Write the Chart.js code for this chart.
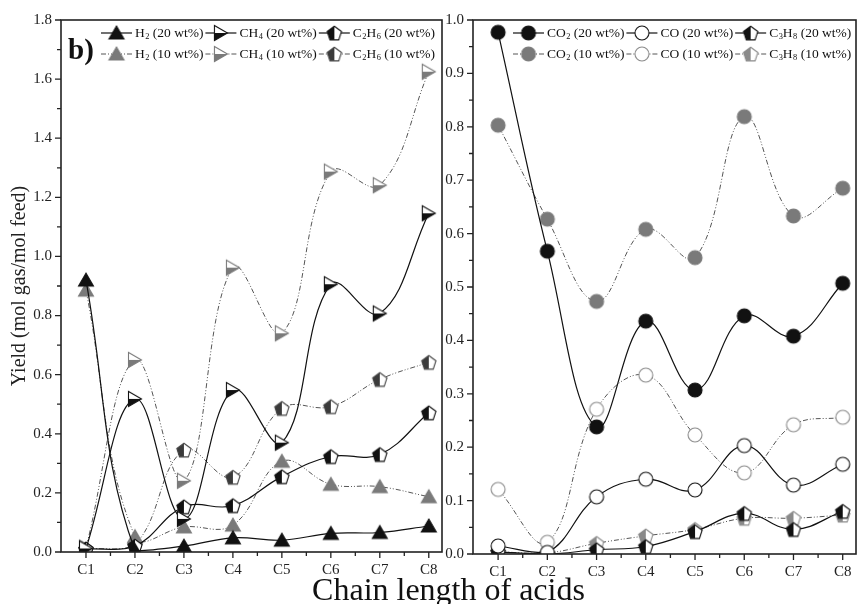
<!DOCTYPE html>
<html>
<head>
<meta charset="utf-8">
<script src="https://cdn.jsdelivr.net/npm/chart.js@4.4.0/dist/chart.umd.min.js"></script>
<style>
  body { margin: 0; background: #fff; width: 857px; height: 604px; position: relative; overflow: hidden; font-family: "Liberation Serif", serif; }
  #left { position: absolute; left: 0; top: 0; }
  #right { position: absolute; left: 445px; top: 0; }
  #xtitle { position: absolute; left: 20px; width: 857px; top: 573px; line-height: 32px; text-align: center; font-size: 32px; color: #111; }
</style>
</head>
<body>
<canvas id="left" width="445" height="604"></canvas>
<canvas id="right" width="412" height="604"></canvas>
<div id="xtitle">Chain length of acids</div>
<script>
// acids C1..C8
const categories = ['C1', 'C2', 'C3', 'C4', 'C5', 'C6', 'C7', 'C8'];

// left panel (mol gas / mol feed)
const h2_20 = [0.92, 0.005, 0.02, 0.048, 0.04, 0.063, 0.066, 0.088];
const h2_10 = [0.886, 0.052, 0.085, 0.091, 0.307, 0.229, 0.221, 0.187];
const ch4_20 = [0.012, 0.518, 0.112, 0.548, 0.37, 0.906, 0.807, 1.146];
const ch4_10 = [0.015, 0.65, 0.241, 0.962, 0.74, 1.287, 1.241, 1.625];
const c2h6_20 = [0.01, 0.02, 0.153, 0.157, 0.255, 0.323, 0.33, 0.471];
const c2h6_10 = [0.01, 0.025, 0.345, 0.253, 0.486, 0.492, 0.584, 0.642];

// right panel
const co2_20 = [0.977, 0.567, 0.238, 0.436, 0.307, 0.446, 0.408, 0.507];
const co2_10 = [0.803, 0.627, 0.473, 0.608, 0.555, 0.819, 0.633, 0.685];
const co_20 = [0.015, 0.003, 0.107, 0.14, 0.12, 0.203, 0.129, 0.168];
const co_10 = [0.121, 0.022, 0.271, 0.335, 0.223, 0.152, 0.242, 0.256];
const c3h8_20 = [0.004, 0.0, 0.008, 0.014, 0.042, 0.076, 0.046, 0.08];
const c3h8_10 = [0.004, 0.002, 0.02, 0.034, 0.046, 0.067, 0.067, 0.073];

// labelled y ticks
const leftYTicks = [0, 0.2, 0.4, 0.6, 0.8, 1.0, 1.2, 1.4, 1.6, 1.8];
const rightYTicks = [0, 0.1, 0.2, 0.3, 0.4, 0.5, 0.6, 0.7, 0.8, 0.9, 1.0];

const FONT = '"Liberation Serif", "Times New Roman", serif';
const DASH = [5, 2, 1, 2, 1, 2];

// build a symbol on a small canvas so it can be used as pointStyle
function makeMarker(shape, stroke, fill, mode) {
  const s = 20, c = document.createElement('canvas');
  c.width = s; c.height = s;
  const g = c.getContext('2d');
  const path = () => {
    g.beginPath();
    if (shape === 'triUp') {
      g.moveTo(10, 3); g.lineTo(17.5, 16); g.lineTo(2.5, 16); g.closePath();
    } else if (shape === 'triRight') {
      g.moveTo(3.5, 2.5); g.lineTo(16.5, 10); g.lineTo(3.5, 17.5); g.closePath();
    } else if (shape === 'penta') {
      for (let k = 0; k < 5; k++) {
        const a = -Math.PI / 2 + k * 2 * Math.PI / 5;
        const px = 10 + 7.5 * Math.cos(a), py = 10.8 + 7.5 * Math.sin(a);
        k ? g.lineTo(px, py) : g.moveTo(px, py);
      }
      g.closePath();
    } else {
      g.arc(10, 10, 7, 0, Math.PI * 2);
    }
  };
  path();
  g.fillStyle = mode === 'full' ? fill : '#fff';
  g.fill();
  if (mode === 'bottom' || mode === 'left') {
    g.save();
    path(); g.clip();
    g.fillStyle = fill;
    if (mode === 'bottom') g.fillRect(0, 10, s, 10);
    else g.fillRect(0, 0, 10, s);
    g.restore();
  }
  path();
  g.lineWidth = 1.1;
  g.strokeStyle = stroke;
  g.stroke();
  return c;
}

function series(label, values, color, dashed, marker) {
  return {
    label,
    data: values.map((v, i) => ({ x: i + 1, y: v })),
    borderColor: color,
    borderWidth: dashed ? 1 : 1.2,
    borderDash: dashed ? DASH : [],
    pointStyle: marker,
    pointRadius: 8,
    tension: 0.4,
    fill: false
  };
}

// text with unicode subscript digits drawn as small lowered digits
function drawRich(ctx, text, x, y, size) {
  const subs = '₀₁₂₃₄₅₆₇₈₉';
  for (const ch of text) {
    const k = subs.indexOf(ch);
    if (k >= 0) {
      ctx.font = (size * 0.62) + 'px ' + FONT;
      ctx.fillText(String(k), x + 0.5, y + size * 0.3);
      x += ctx.measureText(String(k)).width + 0.5;
    } else {
      ctx.font = size + 'px ' + FONT;
      ctx.fillText(ch, x, y);
      x += ctx.measureText(ch).width;
    }
  }
  return x;
}

// two-row legend with line samples and symbols
const sampleLegend = {
  id: 'sampleLegend',
  afterDraw(chart, args, opts) {
    const ctx = chart.ctx;
    const ds = chart.data.datasets;
    ctx.save();
    ctx.textBaseline = 'middle';
    [0, 1].forEach(row => {
      let x = opts.x;
      const y = opts.y + row * 21;
      for (let col = 0; col < 3; col++) {
        const d = ds[row * 3 + col];
        ctx.strokeStyle = d.borderColor;
        ctx.lineWidth = d.borderWidth;
        ctx.setLineDash(d.borderDash);
        ctx.beginPath();
        ctx.moveTo(x, y); ctx.lineTo(x + 31, y);
        ctx.stroke();
        ctx.setLineDash([]);
        ctx.drawImage(d.pointStyle, x + 15.5 - 10, y - 10);
        ctx.fillStyle = '#111';
        x = drawRich(ctx, d.label, x + 34, y, 13.5) + 2;
      }
    });
    if (opts.tag) {
      ctx.fillStyle = '#111';
      ctx.font = 'bold 29px ' + FONT;
      ctx.textBaseline = 'alphabetic';
      ctx.fillText(opts.tag, chart.chartArea.left + 7, 59);
    }
    ctx.restore();
  }
};

// box around plot area plus outward ticks
const frameTicks = {
  id: 'frameTicks',
  afterDatasetsDraw(chart) {
    const { ctx, chartArea: a, scales } = chart;
    ctx.save();
    ctx.strokeStyle = '#222';
    ctx.lineWidth = 1.6;
    ctx.strokeRect(a.left, a.top, a.right - a.left, a.bottom - a.top);
    ctx.lineWidth = 1.3;
    ctx.beginPath();
    scales.x.ticks.forEach(t => {
      const px = scales.x.getPixelForValue(t.value);
      const len = Number.isInteger(t.value) ? 6 : 4;
      ctx.moveTo(px, a.bottom); ctx.lineTo(px, a.bottom + len);
    });
    scales.y.ticks.forEach(t => {
      const py = scales.y.getPixelForValue(t.value);
      const len = t.label !== '' ? 6 : 4;
      ctx.moveTo(a.left, py); ctx.lineTo(a.left - len, py);
    });
    ctx.stroke();
    ctx.restore();
  }
};

function withMinor(major) {
  const out = [];
  major.forEach((v, i) => {
    out.push({ value: v });
    if (i < major.length - 1) out.push({ value: +((v + major[i + 1]) / 2).toFixed(3) });
  });
  return out;
}

function noPad(s) {
  s.paddingLeft = 0; s.paddingRight = 0; s.paddingTop = 0; s.paddingBottom = 0;
}

function buildChart(id, datasets, yMax, yTicks, opts) {
  return new Chart(document.getElementById(id), {
    type: 'line',
    data: { datasets },
    options: {
      responsive: false,
      animation: false,
      devicePixelRatio: 1,
      events: [],
      layout: { autoPadding: false, padding: { top: 20, right: opts.padRight, left: 0, bottom: 0 } },
      scales: {
        x: {
          type: 'linear',
          min: 0.49,
          max: 8.27,
          afterBuildTicks: s => { s.ticks = withMinor(categories.map((c, i) => i + 1)); },
          afterFit: s => { s.height = opts.xHeight; noPad(s); },
          grid: { display: false, drawTicks: false },
          border: { display: false },
          ticks: {
            padding: 9,
            autoSkip: false,
            maxRotation: 0,
            color: '#222',
            font: { family: FONT, size: 15 },
            callback: v => Number.isInteger(v) ? categories[v - 1] : ''
          }
        },
        y: {
          min: 0,
          max: yMax,
          afterBuildTicks: s => { s.ticks = withMinor(yTicks); },
          afterFit: s => { s.width = opts.yWidth; noPad(s); },
          grid: { display: false, drawTicks: false },
          border: { display: false },
          ticks: {
            padding: opts.yPad,
            autoSkip: false,
            color: '#222',
            font: { family: FONT, size: 15 },
            callback: v => yTicks.some(m => Math.abs(m - v) < 1e-6) ? v.toFixed(1) : ''
          },
          title: {
            display: !!opts.yTitle,
            text: opts.yTitle || '',
            color: '#222',
            font: { family: FONT, size: 20 },
            padding: { top: 8, bottom: 0 }
          }
        }
      },
      plugins: {
        legend: { display: false },
        tooltip: { enabled: false },
        sampleLegend: { x: opts.legendX, y: 33, tag: opts.tag }
      }
    },
    plugins: [frameTicks, sampleLegend]
  });
}

const BLACK = '#111', GREY = '#7a7a7a', LINE10 = '#555';

buildChart('left', [
  series('H₂ (20 wt%)', h2_20, BLACK, false, makeMarker('triUp', BLACK, BLACK, 'full')),
  series('CH₄ (20 wt%)', ch4_20, BLACK, false, makeMarker('triRight', BLACK, BLACK, 'bottom')),
  series('C₂H₆ (20 wt%)', c2h6_20, BLACK, false, makeMarker('penta', BLACK, BLACK, 'left')),
  series('H₂ (10 wt%)', h2_10, LINE10, true, makeMarker('triUp', GREY, GREY, 'full')),
  series('CH₄ (10 wt%)', ch4_10, LINE10, true, makeMarker('triRight', GREY, GREY, 'bottom')),
  series('C₂H₆ (10 wt%)', c2h6_10, LINE10, true, makeMarker('penta', '#444', '#3a3a3a', 'left'))
], 1.8, leftYTicks, { padRight: 3, xHeight: 52, yWidth: 61, yPad: 9, yTitle: 'Yield (mol gas/mol feed)', legendX: 101, tag: 'b)' });

buildChart('right', [
  series('CO₂ (20 wt%)', co2_20, BLACK, false, makeMarker('circle', BLACK, BLACK, 'full')),
  series('CO (20 wt%)', co_20, BLACK, false, makeMarker('circle', BLACK, '#fff', 'none')),
  series('C₃H₈ (20 wt%)', c3h8_20, BLACK, false, makeMarker('penta', BLACK, BLACK, 'left')),
  series('CO₂ (10 wt%)', co2_10, LINE10, true, makeMarker('circle', GREY, GREY, 'full')),
  series('CO (10 wt%)', co_10, LINE10, true, makeMarker('circle', '#8a8a8a', '#fff', 'none')),
  series('C₃H₈ (10 wt%)', c3h8_10, LINE10, true, makeMarker('penta', '#8a8a8a', '#8a8a8a', 'left'))
], 1.0, rightYTicks, { padRight: 1, xHeight: 50, yWidth: 28, yPad: 9, legendX: 68 });
</script>
</body>
</html>
